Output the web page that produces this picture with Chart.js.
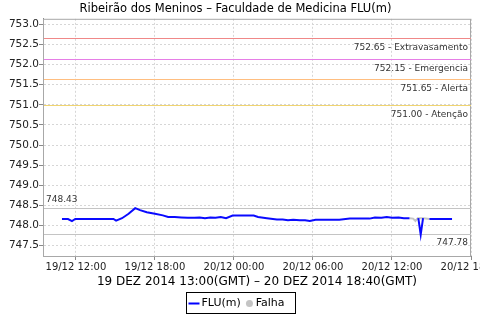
<!DOCTYPE html>
<html>
<head>
<meta charset="utf-8">
<script src="https://cdn.jsdelivr.net/npm/chart.js@4.4.1/dist/chart.umd.min.js"></script>
<style>
  body { margin: 0; background: #fff; }
  #chart_wrap { width: 480px; height: 320px; }
</style>
</head>
<body>
<div id="chart_wrap"><canvas id="chart_flu" width="480" height="320"></canvas></div>
<script>
var title_text = 'Ribeirão dos Meninos – Faculdade de Medicina FLU(m)';
var period_text = '19 DEZ 2014 13:00(GMT) – 20 DEZ 2014 18:40(GMT)';

// hours counted from 19/12 00:00 (local time), null = gap in the readings
var flu_hours = [34.94, 35.4, 35.7, 35.95, 36.5, 37.0, 37.5, 38.0, 38.5, 38.85, 39.05, 39.5, 40.0, 40.5,
  40.87, 41.38, 42.0, 42.6, 43.0, 43.5, 44.0, 44.5, 45.0, 45.4, 45.8, 46.2, 46.6, 47.0, 47.4, 47.9,
  48.5, 49.0, 49.5, 49.83, 50.5, 51.26, 51.7, 52.1, 52.5, 53.0, 53.4, 53.76, 54.2, 54.8, 55.4, 56.0,
  56.8, 57.5, 58.3, 58.7, 59.2, 59.6, 60.0, 60.5, 60.9, 61.33, 61.5, 62.0, 62.18, 62.36, 62.6, 62.84,
  63.4, 64.0, 64.56];
var flu_values = [748.16, 748.16, 748.11, 748.16, 748.16, 748.16, 748.16, 748.16, 748.16, 748.16, 748.12, 748.18, 748.29, 748.43,
  748.38, 748.33, 748.29, 748.25, 748.21, 748.21, 748.20, 748.19, 748.19, 748.20, 748.18, 748.20, 748.19, 748.21, 748.18, 748.245,
  748.245, 748.245, 748.245, 748.21, 748.18, 748.15, 748.15, 748.13, 748.14, 748.13, 748.13, 748.11, 748.14, 748.14, 748.14, 748.14,
  748.17, 748.17, 748.17, 748.20, 748.19, 748.21, 748.19, 748.20, 748.18, 748.18, null, 748.18, 747.77, 748.18, null, 748.16,
  748.16, 748.16, 748.16];
var falha_hours = [61.33, 61.6, 61.78, 61.95, 62.4, 62.84];
var falha_values = [748.18, 748.17, 748.11, 748.18, 748.18, 748.16];

var x_tick_hours = [36, 42, 48, 54, 60, 66];
var x_tick_labels = ['19/12 12:00', '19/12 18:00', '20/12 00:00', '20/12 06:00', '20/12 12:00', '20/12 18:00'];
var y_tick_values = [747.5, 748.0, 748.5, 749.0, 749.5, 750.0, 750.5, 751.0, 751.5, 752.0, 752.5, 753.0];

var limit_values = [752.65, 752.15, 751.65, 751.00];
var limit_names = ['Extravasamento', 'Emergencia', 'Alerta', 'Atenção'];
var limit_colors = ['#f08888', '#e67ee6', '#ffbe80', '#f0d470'];

var max_value = 748.43;
var min_value = 747.78;

var grid_color = '#d6d6d6';
var axis_color = '#8a8a8a';

Chart.defaults.font.family = '"DejaVu Sans", sans-serif';

function to_points(hours, values) {
  return hours.map(function (h, i) { return {x: h, y: values[i]}; });
}

var annotations = {
  id: 'annotations',
  beforeDatasetsDraw: function (chart) {
    var ctx = chart.ctx;
    var area = chart.chartArea;
    var y_scale = chart.scales.y;
    ctx.save();
    ctx.lineWidth = 1;
    ctx.setLineDash([]);
    ctx.strokeStyle = '#a8a8a8';
    ctx.strokeRect(area.left + 0.5, area.top + 0.5, area.right - area.left - 1, area.bottom - area.top);
    ctx.font = '9px "DejaVu Sans"';
    ctx.fillStyle = '#333';
    ctx.textBaseline = 'middle';
    for (var i = 0; i < limit_values.length; i++) {
      var y = Math.round(y_scale.getPixelForValue(limit_values[i])) + 0.5;
      ctx.strokeStyle = limit_colors[i];
      ctx.beginPath();
      ctx.moveTo(area.left + 1, y);
      ctx.lineTo(area.right, y);
      ctx.stroke();
      ctx.textAlign = 'right';
      ctx.fillText(limit_values[i].toFixed(2) + ' - ' + limit_names[i], area.right - 3, y + 9);
    }
    ctx.strokeStyle = '#c4c4c4';
    var y_max = Math.round(y_scale.getPixelForValue(max_value)) + 0.5;
    var y_min = Math.round(y_scale.getPixelForValue(min_value)) + 0.5;
    ctx.beginPath();
    ctx.moveTo(area.left + 1, y_max);
    ctx.lineTo(area.right, y_max);
    ctx.moveTo(area.left + 1, y_min);
    ctx.lineTo(area.right, y_min);
    ctx.stroke();
    ctx.textAlign = 'left';
    ctx.fillText(max_value.toFixed(2), area.left + 3, y_max - 8.5);
    ctx.textAlign = 'right';
    ctx.fillText(min_value.toFixed(2), area.right - 3, y_min + 8);
    ctx.restore();
  }
};

var legend_box = {
  id: 'legend_box',
  afterDraw: function (chart) {
    var ctx = chart.ctx;
    ctx.save();
    ctx.font = '11px "DejaVu Sans"';
    var w1 = ctx.measureText('FLU(m)').width;
    var w2 = ctx.measureText('Falha').width;
    var total = 15 + w1 + 8.7 + 6.3 + w2 + 10.6;
    var left = Math.round((chart.width - total) / 2) + 0.5;
    var top = chart.chartArea.bottom + 36.5;
    var mid = top + 11;
    ctx.strokeStyle = '#000';
    ctx.lineWidth = 1;
    ctx.strokeRect(left, top, Math.round(total), 21);
    ctx.strokeStyle = '#0000ff';
    ctx.lineWidth = 2;
    ctx.beginPath();
    ctx.moveTo(left + 2, mid);
    ctx.lineTo(left + 13, mid);
    ctx.stroke();
    ctx.fillStyle = '#000';
    ctx.textAlign = 'left';
    ctx.textBaseline = 'middle';
    ctx.fillText('FLU(m)', left + 15, mid);
    var cx = left + 15 + w1 + 8.7;
    ctx.fillStyle = '#c4c4c4';
    ctx.beginPath();
    ctx.arc(cx, mid, 3.5, 0, Math.PI * 2);
    ctx.fill();
    ctx.fillStyle = '#000';
    ctx.fillText('Falha', cx + 6.3, mid);
    ctx.restore();
  }
};

function make_chart() {
  var ctx = document.getElementById('chart_flu').getContext('2d');

  new Chart(ctx, {
    type: 'line',
    data: {
      datasets: [{
        label: 'Falha',
        data: to_points(falha_hours, falha_values),
        borderColor: '#c4c4c4',
        backgroundColor: '#c4c4c4',
        borderWidth: 2,
        pointRadius: 0,
        tension: 0,
        order: 2
      }, {
        label: 'FLU(m)',
        data: to_points(flu_hours, flu_values),
        borderColor: '#0a0aff',
        backgroundColor: '#0a0aff',
        borderWidth: 2,
        pointRadius: 0,
        tension: 0,
        spanGaps: false,
        order: 1
      }]
    },
    options: {
      responsive: false,
      animation: false,
      layout: { padding: { top: 0, right: 9, bottom: 28, left: 0 } },
      plugins: {
        legend: { display: false },
        tooltip: { enabled: false },
        title: {
          display: true,
          text: title_text,
          color: '#000',
          font: { size: 11.5, weight: 'normal' },
          padding: { top: 2, bottom: 3 }
        }
      },
      scales: {
        x: {
          type: 'linear',
          min: 33.5,
          max: 66,
          afterBuildTicks: function (scale) {
            scale.ticks = x_tick_hours.map(function (h) { return {value: h}; });
          },
          afterFit: function (scale) {
            scale.height = 36;
            scale.paddingLeft = 0;
            scale.paddingRight = 0;
          },
          ticks: {
            autoSkip: false,
            maxRotation: 0,
            padding: 1,
            color: '#222',
            font: { size: 10 },
            callback: function (value, index) { return x_tick_labels[index]; }
          },
          grid: { color: grid_color, tickColor: axis_color, tickLength: 4, tickBorderDash: [] },
          border: { color: axis_color, dash: [2, 2] },
          title: {
            display: true,
            text: period_text,
            color: '#000',
            font: { size: 12 },
            padding: { top: 0, bottom: 3 }
          }
        },
        y: {
          min: 747.24,
          max: 753.14,
          afterBuildTicks: function (scale) {
            scale.ticks = y_tick_values.map(function (v) { return {value: v}; });
          },
          afterFit: function (scale) {
            scale.width = 43;
            scale.paddingTop = 0;
            scale.paddingBottom = 0;
          },
          ticks: {
            padding: 0,
            color: '#222',
            font: { size: 10.5 },
            callback: function (value) { return value.toFixed(1); }
          },
          grid: { color: grid_color, tickColor: axis_color, tickLength: 4, tickBorderDash: [] },
          border: { color: axis_color, dash: [2, 2] }
        }
      }
    },
    plugins: [annotations, legend_box]
  });
}

make_chart();
</script>
</body>
</html>
